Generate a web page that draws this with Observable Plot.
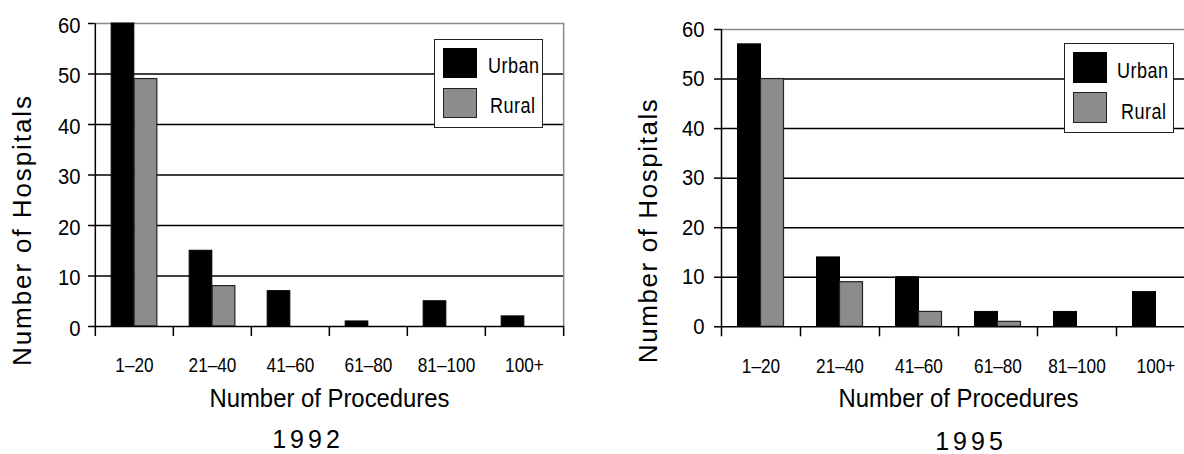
<!DOCTYPE html>
<html>
<head>
<meta charset="utf-8">
<script src="https://cdn.jsdelivr.net/npm/d3@7"></script>
<script src="https://cdn.jsdelivr.net/npm/@observablehq/plot@0.6"></script>
<style>
  html, body { margin: 0; padding: 0; background: #fff; overflow: hidden; }
  #wrap { position: relative; width: 1184px; height: 454px; overflow: hidden;
          font-family: "Liberation Sans", Arial, sans-serif; color: #000; }
  .panel { position: absolute; top: 0; }
  .legend { position: absolute; background: #fff; border: 1.5px solid #222; box-sizing: border-box; }
  .sw { position: absolute; width: 34px; box-sizing: border-box; border: 1.5px solid #222; }
  .lt { position: absolute; font-size: 22px; line-height: 22px; white-space: nowrap;
        transform: scaleX(0.82); transform-origin: 0 50%; }
  .cap { position: absolute; font-family: "Liberation Sans", Arial, sans-serif; font-size: 25px; line-height: 18px;
         letter-spacing: 4px; transform: translate(-50%, -50%); white-space: nowrap; }
</style>
</head>
<body>
<div id="wrap"></div>
<script>
// ---- data ----
const categories = ["1–20", "21–40", "41–60", "61–80", "81–100", "100+"];
const series = ["Urban", "Rural"];
const urban1992 = [60, 15, 7, 1, 5, 2];
const rural1992 = [49, 8, 0, 0, 0, 0];
const urban1995 = [57, 14, 10, 3, 3, 7];
const rural1995 = [50, 9, 3, 1, 0, 0];
const yTicks = [0, 10, 20, 30, 40, 50, 60];
const xTitle = "Number of Procedures";
const yTitle = "Number of Hospitals";
const years = ["1992", "1995"];
const colors = ["#000000", "#8c8c8c"];

const FONT = '"Liberation Sans", Arial, sans-serif';
const wrap = document.getElementById("wrap");

// horizontally condense rendered svg text (narrow face look)
function squeeze(sel, k) {
  sel.each(function() {
    const L = this.getComputedTextLength();
    if (L > 0) {
      this.setAttribute("textLength", (L * k).toFixed(1));
      this.setAttribute("lengthAdjust", "spacingAndGlyphs");
    }
  });
}

function makePanel(cfg) {
  const rows = categories.flatMap((c, i) => [
    {cat: c, series: "Urban", value: cfg.urban[i]},
    {cat: c, series: "Rural", value: cfg.rural[i]}
  ]);
  const bw = (cfg.width - cfg.marginLeft - cfg.marginRight) / categories.length;
  const pair = 46;
  const side = (bw - pair) / 2;
  const last = categories[categories.length - 1];
  const plot = Plot.plot({
    width: cfg.width,
    height: 454,
    marginLeft: cfg.marginLeft,
    marginRight: cfg.marginRight,
    marginTop: cfg.marginTop,
    marginBottom: cfg.marginBottom,
    style: {fontFamily: FONT, background: "transparent", overflow: "visible", color: "#000"},
    x: {type: "band", domain: categories, padding: 0},
    y: {domain: [0, 60]},
    color: {domain: series, range: colors},
    marks: [
      Plot.ruleY(yTicks.filter(t => t > 0 && t < 60), {stroke: "#000", strokeWidth: 1.5}),
      Plot.ruleY([60], {stroke: "#8a8a8a", strokeWidth: 1.5}),
      Plot.ruleX([last], {dx: bw / 2, y1: 0, y2: 60, stroke: "#8a8a8a", strokeWidth: 1.5}),
      Plot.barY(rows.filter(d => d.series === "Urban" && d.value > 0),
        {x: "cat", y: "value", fill: "series", stroke: "#000", strokeWidth: 1, insetLeft: side, insetRight: bw / 2}),
      Plot.barY(rows.filter(d => d.series === "Rural" && d.value > 0),
        {x: "cat", y: "value", fill: "series", stroke: "#222", strokeWidth: 1.2, insetLeft: bw / 2, insetRight: side}),
      Plot.ruleY([0], {stroke: "#000", strokeWidth: 1.5}),
      Plot.ruleX([categories[0]], {dx: -bw / 2, y1: 0, y2: 60, stroke: "#000", strokeWidth: 1.5}),
      Plot.axisX({ticks: categories, tickSize: 10, fill: "none", dx: -bw / 2, label: null, stroke: "#000", strokeWidth: 1.5}),
      Plot.axisX({ticks: [last], tickSize: 10, fill: "none", dx: bw / 2, label: null, stroke: "#000", strokeWidth: 1.5}),
      Plot.axisX({ticks: categories, tickSize: 0, tickPadding: 31, fontSize: 21, label: null, stroke: "none", fill: "#000"}),
      Plot.axisY({ticks: yTicks, tickSize: cfg.tickSize, fill: "none", label: null, stroke: "#000", strokeWidth: 1.5}),
      Plot.axisY({ticks: yTicks, tickSize: 0, tickPadding: cfg.tickSize + cfg.tickPad, fontSize: 22, dy: cfg.labelDy,
        label: null, stroke: "none", fill: "#000"}),
      Plot.text([xTitle], {frameAnchor: "bottom", dy: 80, fontSize: 26, fill: "#000"}),
      Plot.text([yTitle], {frameAnchor: "left", textAnchor: "middle", dx: cfg.yTitleDx, dy: cfg.yTitleDy,
        rotate: -90, fontSize: 26, fill: "#000"})
    ]
  });
  plot.classList.add("panel");
  plot.style.left = cfg.left + "px";
  wrap.appendChild(plot);

  const svg = d3.select(plot);
  squeeze(svg.selectAll('g[aria-label="x-axis tick label"] text'), 0.82);
  squeeze(svg.selectAll('g[aria-label="y-axis tick label"] text'), 0.92);
  svg.selectAll("text").each(function() {
    const t = this.textContent;
    if (t === xTitle) { this.setAttribute("textLength", cfg.xTitleLen); this.setAttribute("lengthAdjust", "spacingAndGlyphs"); }
    if (t === yTitle) { this.setAttribute("textLength", cfg.yTitleLen); this.setAttribute("lengthAdjust", "spacing"); }
  });

  // legend
  const lg = document.createElement("div");
  lg.className = "legend";
  Object.assign(lg.style, {left: cfg.lg.x + "px", top: cfg.lg.y + "px", width: cfg.lg.w + "px", height: cfg.lg.h + "px"});
  wrap.appendChild(lg);
  series.forEach((s, i) => {
    const sw = document.createElement("div");
    sw.className = "sw";
    Object.assign(sw.style, {left: (cfg.lg.x + cfg.lg.swx) + "px", top: (cfg.lg.y + cfg.lg.swy[i]) + "px",
      height: cfg.lg.swh + "px", background: colors[i], borderColor: i === 0 ? "#000" : "#222"});
    wrap.appendChild(sw);
    const lt = document.createElement("div");
    lt.className = "lt";
    lt.textContent = s;
    Object.assign(lt.style, {left: cfg.lg.tx[i] + "px", top: (cfg.lg.tb[i] - 18.6) + "px", letterSpacing: "0.6px"});
    wrap.appendChild(lt);
  });

  // year caption
  const cap = document.createElement("div");
  cap.className = "cap";
  cap.textContent = cfg.year;
  Object.assign(cap.style, {left: cfg.capX + "px", top: cfg.capY + "px"});
  wrap.appendChild(cap);
}

makePanel({
  urban: urban1992, rural: rural1992, year: years[0],
  left: 0, width: 600, marginLeft: 94, marginRight: 36, marginTop: 23, marginBottom: 128,
  tickSize: 6, tickPad: 8, labelDy: 2,
  yTitleDx: -72, yTitleDy: 56, xTitleLen: 240, yTitleLen: 270,
  capX: 308, capY: 439,
  lg: {x: 434, y: 39, w: 109, h: 89, swx: 9, swy: [9, 49], swh: 30, tx: [488, 490], tb: [74, 113.5]}
});

makePanel({
  urban: urban1995, rural: rural1995, year: years[1],
  left: 600, width: 600, marginLeft: 121, marginRight: 5, marginTop: 29, marginBottom: 127.7,
  tickSize: 7, tickPad: 10, labelDy: 0,
  yTitleDx: -73, yTitleDy: 53, xTitleLen: 240, yTitleLen: 264,
  capX: 971, capY: 441,
  lg: {x: 1064, y: 43, w: 110, h: 90, swx: 9, swy: [9, 49], swh: 31, tx: [1117, 1121], tb: [79, 120]}
});
</script>
</body>
</html>
